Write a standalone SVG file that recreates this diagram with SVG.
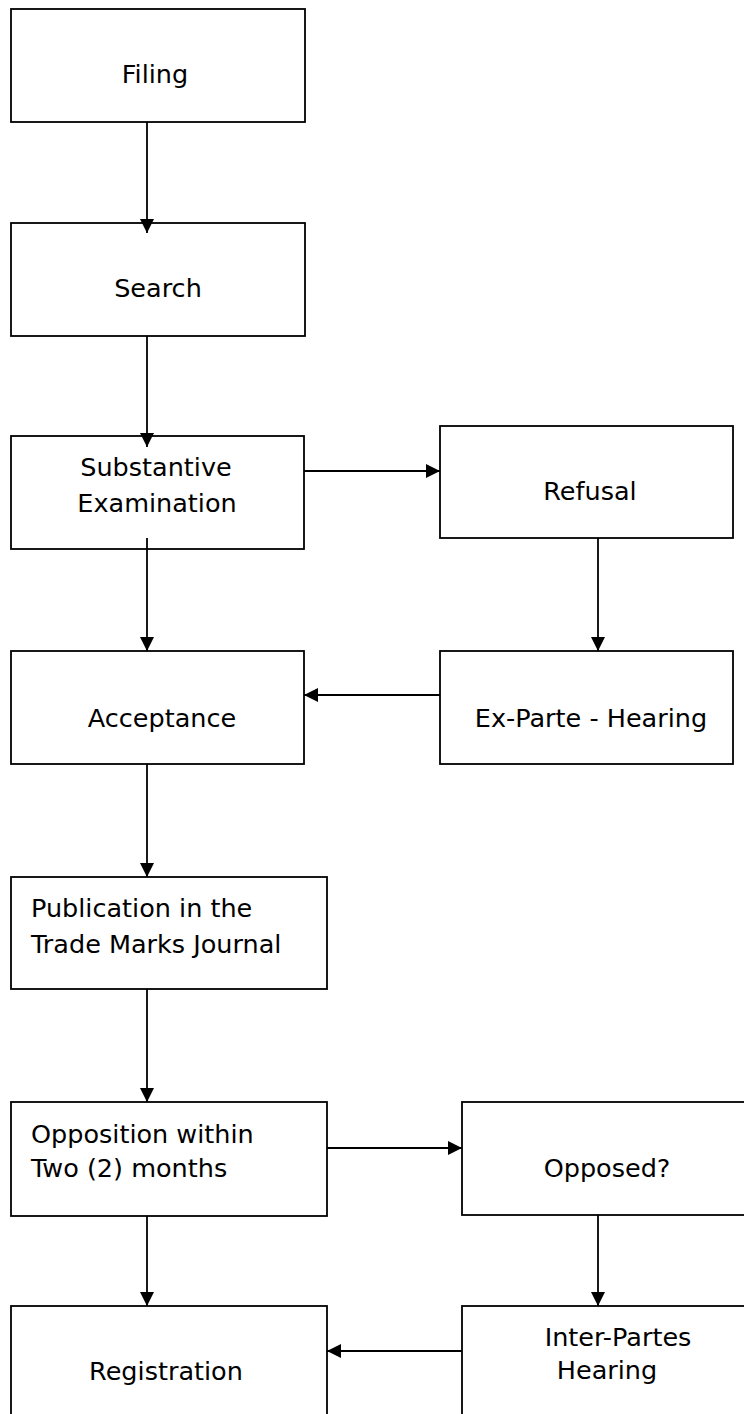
<svg xmlns="http://www.w3.org/2000/svg" width="744" height="1414" viewBox="0 0 744 1414">
<style>
.box{fill:#fff;stroke:#000;stroke-width:1.8}
.t{font-family:"DejaVu Sans","Verdana",sans-serif;font-size:25.5px;fill:#000}
.c{text-anchor:middle}
.con line{stroke:#000;stroke-width:1.8;marker-end:url(#ah)}
</style>
<defs>
<marker id="ah" markerUnits="userSpaceOnUse" markerWidth="15" markerHeight="15" refX="14" refY="7.5" orient="auto">
<path d="M0,0.5 L14,7.5 L0,14.5 z" fill="#000"/>
</marker>
</defs>
<rect width="744" height="1414" fill="#fff"/>
<g id="filing"><rect class="box" x="11" y="9" width="294" height="113"/><text class="t c" x="155" y="83">Filing</text></g>
<g id="search"><rect class="box" x="11" y="223" width="294" height="113"/><text class="t c" x="158" y="297">Search</text></g>
<g id="substantive"><rect class="box" x="11" y="436" width="293" height="113"/><text class="t c" x="156" y="476">Substantive</text><text class="t c" x="157" y="512">Examination</text></g>
<g id="refusal"><rect class="box" x="440" y="426" width="293" height="112"/><text class="t c" x="590" y="500">Refusal</text></g>
<g id="acceptance"><rect class="box" x="11" y="651" width="293" height="113"/><text class="t c" x="162" y="727">Acceptance</text></g>
<g id="exparte"><rect class="box" x="440" y="651" width="293" height="113"/><text class="t c" x="591" y="727">Ex-Parte - Hearing</text></g>
<g id="publication"><rect class="box" x="11" y="877" width="316" height="112"/><text class="t" x="31" y="917">Publication in the</text><text class="t" x="31" y="953">Trade Marks Journal</text></g>
<g id="opposition"><rect class="box" x="11" y="1102" width="316" height="114"/><text class="t" x="31" y="1143">Opposition within</text><text class="t" x="31" y="1177">Two (2) months</text></g>
<g id="opposed"><rect class="box" x="462" y="1102" width="300" height="113"/><text class="t c" x="607" y="1177">Opposed?</text></g>
<g id="registration"><rect class="box" x="11" y="1306" width="316" height="130"/><text class="t c" x="166" y="1380">Registration</text></g>
<g id="interpartes"><rect class="box" x="462" y="1306" width="300" height="130"/><text class="t c" x="618" y="1346">Inter-Partes</text><text class="t c" x="607" y="1379">Hearing</text></g>
<g id="connectors" class="con">
<line x1="147" y1="122" x2="147" y2="233"/>
<line x1="147" y1="336" x2="147" y2="447"/>
<line x1="304" y1="471" x2="440" y2="471"/>
<line x1="147" y1="538" x2="147" y2="651"/>
<line x1="598" y1="538" x2="598" y2="651"/>
<line x1="440" y1="695" x2="304" y2="695"/>
<line x1="147" y1="764" x2="147" y2="877"/>
<line x1="147" y1="989" x2="147" y2="1102"/>
<line x1="327" y1="1148" x2="462" y2="1148"/>
<line x1="598" y1="1215" x2="598" y2="1306"/>
<line x1="462" y1="1351" x2="327" y2="1351"/>
<line x1="147" y1="1216" x2="147" y2="1306"/>
</g>
</svg>
